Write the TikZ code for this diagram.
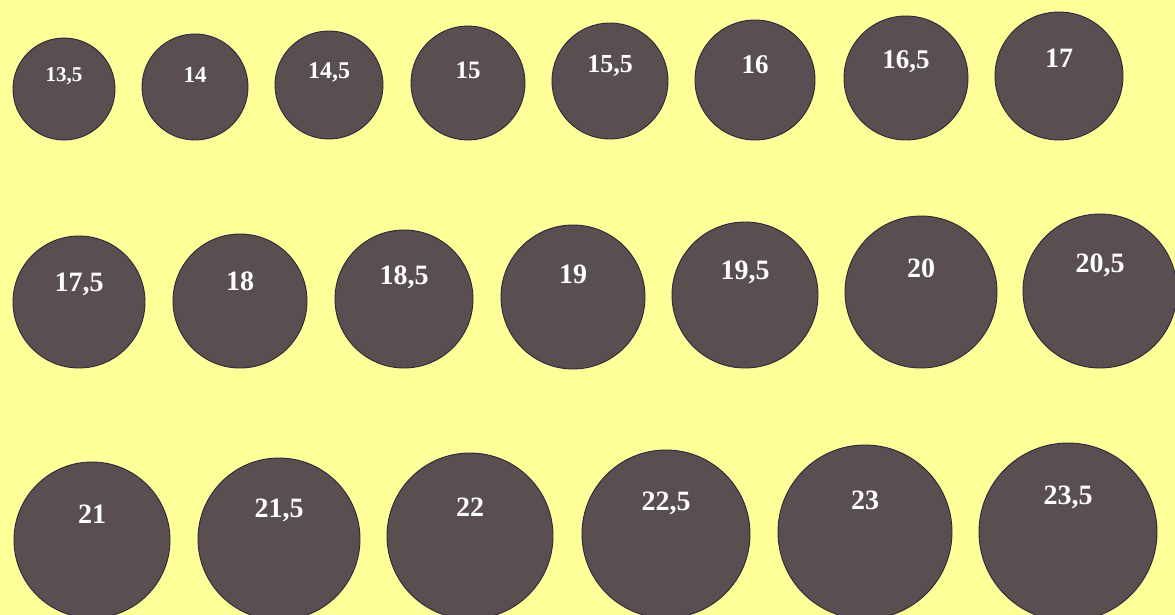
\documentclass[tikz,border=0pt]{standalone}
\usepackage{fontspec}
\setmainfont{Liberation Serif}
\definecolor{bgyellow}{RGB}{255,255,153}
\definecolor{discfill}{RGB}{90,79,80}
\definecolor{discline}{RGB}{45,38,60}
\tikzset{
  disc/.style={circle, fill=discfill, draw=discline, line width=0.9pt, inner sep=0pt, minimum size=#1},
  sizelabel/.style={text=white, inner sep=0pt, font=\bfseries\fontsize{#1}{#1}\selectfont}
}
\begin{document}
\begin{tikzpicture}[x=1pt,y=-1pt]
\useasboundingbox (0,0) rectangle (1175,615);
\fill[bgyellow] (0,0) rectangle (1175,615);
\foreach \n/\cx/\cy/\r/\ty/\fs/\lab in {
  1/64/89/51/76/21/{13,5},
  2/195/87/53/75/23/{14},
  3/329/85/54/72/24/{14,5},
  4/468/83/57/70/25/{15},
  5/610/81/58/66/26/{15,5},
  6/755/80/60/65/27/{16},
  7/906/78/62/62/27/{16,5},
  8/1059/76/64/58/28/{17},
  9/79/302/66/284/28/{17,5},
  10/240/301/67/281/28/{18},
  11/404/299/69/277/28/{18,5},
  12/573/297/72/274/28/{19},
  13/745/295/73/272/28/{19,5},
  14/921/292/76/268/28/{20},
  15/1100/291/77/265/28/{20,5},
  16/92/540/78/514/28/{21},
  17/279/539/81/510/28/{21,5},
  18/470/536/83/507/28/{22},
  19/666/534/84/503/28/{22,5},
  20/865/532/87/500/28/{23},
  21/1068/532/89/497/28/{23,5}}
{
  \node[disc=2*\r pt] (c\n) at (\cx,\cy) {};
  \node[sizelabel=\fs] (t\n) at (\cx,\ty) {\lab};
}
\end{tikzpicture}
\end{document}
